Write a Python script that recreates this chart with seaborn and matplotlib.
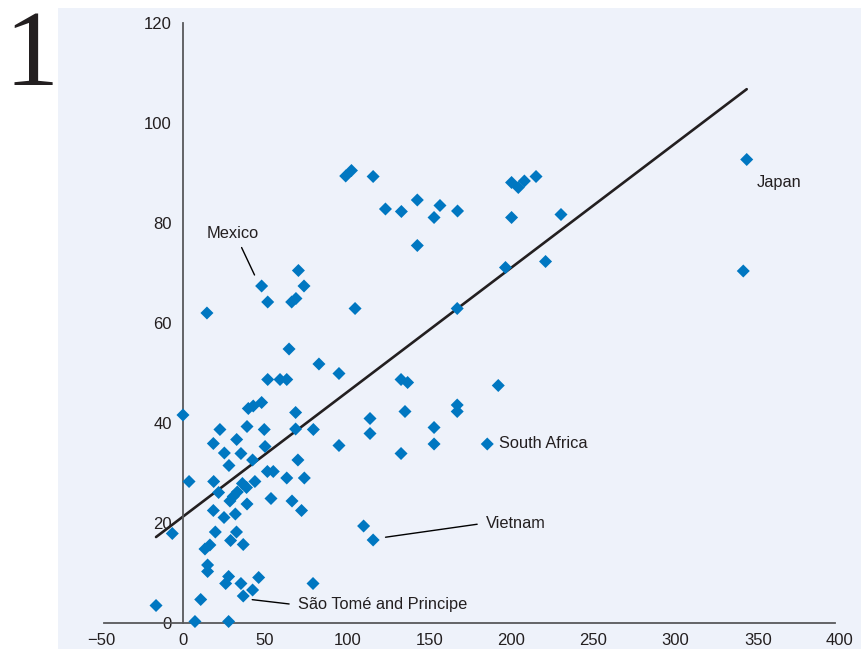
#!/usr/bin/env python3
"""
Scatter of country observations with a fitted line and a few labelled
countries (Mexico, Japan, South Africa, Vietnam, Sao Tome and Principe).
"""

import matplotlib
matplotlib.use("Agg")
import matplotlib.pyplot as plt
import numpy as np
import pandas as pd
import seaborn as sns

# =============================================================================
# Data
# =============================================================================
X_VALUES = [
    47.9, 73.7, 70.3, 51.6, 66.2, 68.8, 14.6, 64.6, 82.8, 95.0,
    51.6, 59.1, 63.2, 0.0, 39.8, 42.8, 47.9, 68.6, 22.5, 39.0,
    49.5, 68.6, 79.4, 95.0, 18.5, 32.7, 25.2, 35.3, 50.0, 28.0,
    42.4, 70.0, 3.7, 18.7, 43.8, 51.4, 55.0, 63.2, 73.9, 36.2,
    38.7, 33.1, 30.6, 28.6, 21.7, 39.0, 53.6, 66.4, 72.2, 18.5,
    25.0, 31.9, -6.5, 19.7, 29.0, 32.6, 36.7, 16.4, 13.4, 15.0,
    15.0, 27.8, 26.0, 35.3, 46.1, 42.4, 36.7, 10.8, -16.4, 7.3,
    27.8, 79.2, 110.0, 115.8, 99.1, 102.6, 115.8, 123.3, 133.0, 142.7,
    156.5, 152.9, 167.2, 142.7, 200.1, 204.2, 207.9, 215.0, 200.1, 230.2,
    196.4, 220.8, 343.3, 341.2, 132.8, 136.8, 192.0, 167.0, 167.0, 135.2,
    113.9, 113.9, 152.9, 152.9, 132.8, 185.3, 104.8, 167.0,
]
Y_VALUES = [
    67.4, 67.4, 70.5, 64.2, 64.2, 64.9, 62.0, 54.8, 51.8, 49.9,
    48.7, 48.7, 48.7, 41.6, 42.9, 43.4, 44.1, 42.1, 38.7, 39.3,
    38.7, 38.8, 38.7, 35.5, 35.9, 36.7, 34.0, 33.9, 35.3, 31.5,
    32.6, 32.6, 28.3, 28.3, 28.3, 30.3, 30.3, 29.0, 29.0, 27.9,
    27.1, 26.2, 25.3, 24.4, 26.1, 23.8, 24.9, 24.4, 22.5, 22.5,
    21.1, 21.8, 17.9, 18.2, 16.5, 18.2, 15.7, 15.6, 14.8, 11.6,
    10.3, 9.3, 7.9, 7.9, 9.1, 6.6, 5.4, 4.7, 3.5, 0.3,
    0.3, 7.9, 19.4, 16.6, 89.4, 90.5, 89.3, 82.8, 82.3, 84.6,
    83.5, 81.1, 82.4, 75.5, 88.1, 87.1, 88.4, 89.3, 81.1, 81.7,
    71.1, 72.3, 92.7, 70.4, 48.7, 48.1, 47.5, 43.6, 42.3, 42.3,
    40.9, 37.9, 39.1, 35.8, 33.9, 35.8, 62.9, 62.9,
]

X_TICKS = [-50, 0, 50, 100, 150, 200, 250, 300, 350, 400]
Y_TICKS = [0, 20, 40, 60, 80, 100, 120]

# Labelled countries: text, text anchor (data units), leader line target
LABELS = ["Mexico", "Japan", "South Africa", "Vietnam", "São Tomé and Principe"]
LABEL_POS = [(30.5, 78.0), (349.6, 88.2), (192.4, 36.0), (184.5, 20.0), (70.0, 3.6)]
LEADER_TO = [(44.3, 69.1), None, None, (120.0, 17.0), (38.8, 4.8)]

# =============================================================================
# Styling
# =============================================================================
POINT_COLOR = "#0077C1"
LINE_COLOR = "#231F20"
TEXT_COLOR = "#231F20"
PANEL_COLOR = "#EEF2FA"
AXIS_COLOR = "#58595B"
FIG_W, FIG_H = 862, 649


def main():
    sns.set_theme(style="white")
    plt.rcParams['font.family'] = ['Liberation Sans Narrow', 'Liberation Sans', 'DejaVu Sans']

    df = pd.DataFrame({'x': X_VALUES, 'y': Y_VALUES})

    fig = plt.figure(figsize=(FIG_W / 100, FIG_H / 100), dpi=100)
    ax = fig.add_axes([58 / FIG_W, 0, (FIG_W - 58) / FIG_W, (FIG_H - 8) / FIG_H])
    ax.set_facecolor(PANEL_COLOR)

    # Fitted line
    sns.regplot(data=df, x='x', y='y', ax=ax, scatter=False, ci=None,
                truncate=True, line_kws=dict(color=LINE_COLOR, linewidth=1.9))

    # Points
    sns.scatterplot(data=df, x='x', y='y', ax=ax, marker='D', s=44,
                    color=POINT_COLOR, edgecolor='none', zorder=3)

    ax.set_xlim(-76.1, 413.5)
    ax.set_ylim(-5.2, 123)

    # Axis lines crossing at zero
    for side in ('top', 'right'):
        ax.spines[side].set_visible(False)
    ax.spines['left'].set_position(('data', 0))
    ax.spines['bottom'].set_position(('data', 0))
    ax.spines['left'].set_bounds(0, 120)
    ax.spines['bottom'].set_bounds(-48, 397)
    for side in ('left', 'bottom'):
        ax.spines[side].set_color(AXIS_COLOR)
        ax.spines[side].set_linewidth(1.3)

    ax.set_xticks(X_TICKS)
    ax.set_xticklabels([str(t).replace('-', '\u2212') for t in X_TICKS])
    ax.set_yticks(Y_TICKS)
    ax.tick_params(axis='x', length=0, pad=7, labelsize=12, labelcolor=TEXT_COLOR)
    ax.tick_params(axis='y', length=0, pad=8, labelsize=12, labelcolor=TEXT_COLOR)
    ax.set_xlabel('')
    ax.set_ylabel('')

    # Country labels
    label_size = 11.8
    for text, pos, target in zip(LABELS, LABEL_POS, LEADER_TO):
        if target is None:
            ax.text(pos[0], pos[1], text, ha='left', va='center',
                    fontsize=label_size, color=TEXT_COLOR)
        elif text == "Mexico":
            ax.annotate(text, xy=target, xytext=pos, ha='center', va='center',
                        fontsize=label_size, color=TEXT_COLOR,
                        arrowprops=dict(arrowstyle='-', color='black', lw=1.0,
                                        relpos=(0.6, 0.0), shrinkA=3, shrinkB=2))
        else:
            ax.annotate(text, xy=target, xytext=pos, ha='left', va='center',
                        fontsize=label_size, color=TEXT_COLOR,
                        arrowprops=dict(arrowstyle='-', color='black', lw=1.0,
                                        relpos=(0.0, 0.5), shrinkA=4, shrinkB=4))

    # Panel number
    fig.text(4 / FIG_W, 1 - 85 / FIG_H, "1", fontsize=78, color='#231F20',
             family=['Liberation Serif', 'DejaVu Serif'], ha='left', va='baseline')

    fig.savefig('out.png', dpi=100)
    plt.close(fig)
    return 0


if __name__ == "__main__":
    exit(main())
